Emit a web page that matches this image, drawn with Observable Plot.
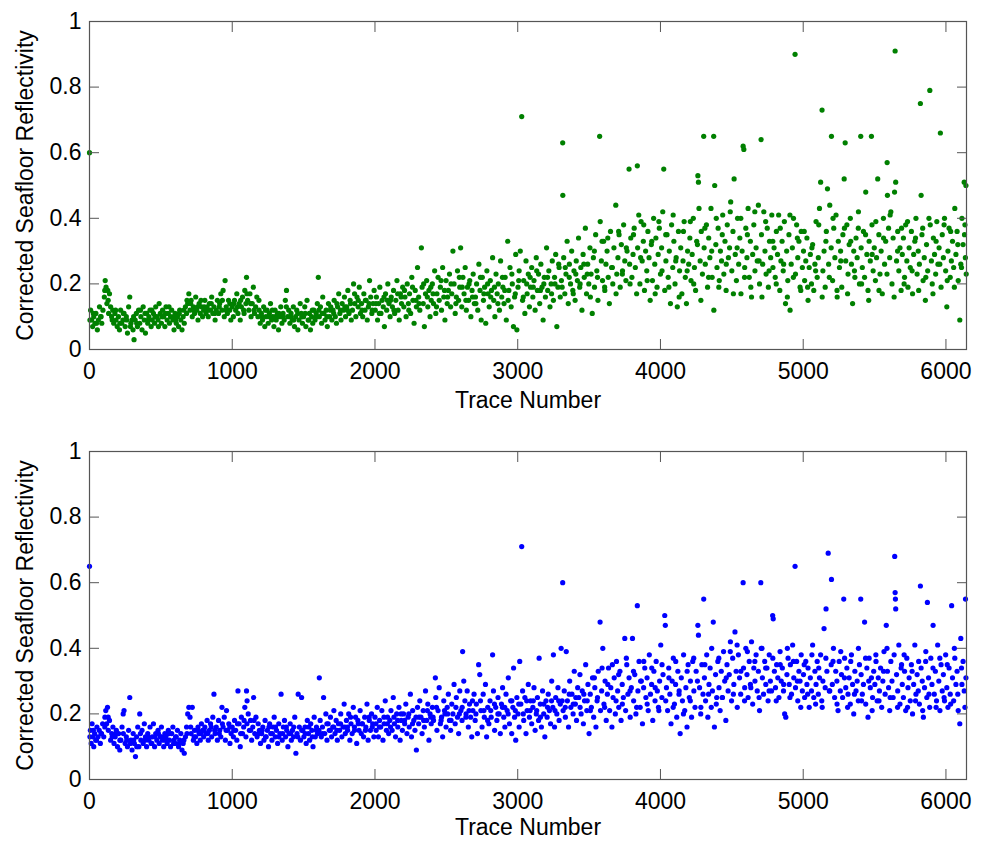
<!DOCTYPE html>
<html><head><meta charset="utf-8">
<script src="https://cdn.jsdelivr.net/npm/d3@7"></script>
<script src="https://cdn.jsdelivr.net/npm/@observablehq/plot@0.6"></script>
<style>
body{margin:0;background:#fff;}
#chart svg{display:block;}
</style></head><body><div id="chart"></div>
<script>
const xTicks = [0,1000,2000,3000,4000,5000,6000];
const yTicks = [0,0.2,0.4,0.6,0.8,1];
const xLabel = "Trace Number";
const yLabel = "Corrected Seafloor Reflectivity";
const traceMax = 6144;

// Top panel (green): [trace, reflectivity]
const green1 = [[0,.60],[8,.12],[15,.09],[22,.07],[30,.10],[38,.08],[45,.11],[55,.06],[62,.09],[70,.13],[78,.10],[86,.08],[94,.12],
[104,.16],[110,.21],[116,.19],[122,.14],[128,.18],[134,.11],[140,.17],[148,.13],[155,.10],[163,.12],[170,.08],[178,.11],[186,.09],[194,.07],
[203,.10],[210,.06],[218,.12],[226,.08],[234,.09],[242,.11],[250,.07],[258,.10],[266,.05],[274,.13],[282,.16],[290,.08],[297,.09],
[305,.06],[312,.03],[320,.09],[328,.11],[336,.07],[344,.12],[352,.08],[360,.10],[368,.06],[376,.13],[384,.09],[392,.05],
[400,.11],[408,.08],[416,.10],[424,.12],[432,.07],[440,.09],[448,.11],[456,.08],[464,.13],[472,.10],[480,.09],[488,.14],[496,.11],
[504,.08],[512,.12],[520,.10],[528,.07],[536,.13],[544,.09],[552,.11],[560,.08],[568,.10],[576,.12],[584,.09],[592,.06],
[600,.11],[608,.08],[616,.10],[624,.07],[632,.12],[640,.09],[648,.06],[656,.10],[664,.08],[672,.13],[680,.11],[688,.14],[696,.17],
[704,.12],[712,.15],[720,.10],[728,.13],[736,.11],[744,.16],[752,.12],[760,.09],[768,.14],[776,.11],[784,.13],[792,.10],
[800,.12],[808,.15],[816,.11],[824,.13],[832,.10],[840,.14],[848,.12],[856,.16],[864,.11],[872,.13],[880,.09],[888,.12],[896,.15],
[904,.11],[912,.14],[920,.17],[928,.12],[936,.18],[944,.10],[950,.21],[958,.13],[966,.11],[974,.15],[982,.12],[990,.09]];
const green2 = [[1000,.13],[1008,.10],[1016,.15],[1024,.12],[1032,.17],[1040,.11],[1048,.14],[1056,.09],[1064,.13],[1072,.16],[1080,.12],[1088,.18],[1096,.14],
[1100,.22],[1108,.15],[1116,.12],[1124,.17],[1132,.10],[1140,.14],[1148,.19],[1156,.11],[1164,.13],[1172,.16],[1180,.10],[1188,.12],[1196,.08],
[1204,.11],[1212,.09],[1220,.13],[1228,.07],[1236,.10],[1244,.12],[1252,.08],[1260,.11],[1268,.14],[1276,.09],[1284,.10],[1292,.07],
[1300,.12],[1308,.09],[1316,.11],[1324,.06],[1332,.10],[1340,.13],[1348,.08],[1356,.11],[1364,.09],[1372,.15],[1380,.18],[1388,.10],[1396,.12],
[1404,.08],[1412,.11],[1420,.09],[1428,.13],[1436,.07],[1444,.10],[1452,.12],[1460,.06],[1468,.09],[1476,.14],[1484,.11],[1492,.08],
[1500,.10],[1508,.13],[1516,.07],[1524,.15],[1532,.09],[1540,.11],[1548,.06],[1556,.10],[1564,.08],[1572,.12],[1580,.09],[1588,.11],[1596,.14],
[1603,.22],[1610,.10],[1618,.13],[1626,.08],[1634,.16],[1642,.11],[1650,.09],[1658,.12],[1666,.07],[1674,.14],[1682,.10],[1690,.13],[1698,.09],
[1706,.12],[1714,.15],[1722,.10],[1730,.08],[1738,.13],[1746,.17],[1754,.11],[1762,.09],[1770,.14],[1778,.12],[1786,.16],[1794,.10],
[1802,.13],[1810,.18],[1818,.11],[1826,.15],[1834,.09],[1842,.12],[1850,.20],[1858,.14],[1866,.10],[1874,.16],[1882,.13],[1890,.19],[1898,.11],
[1906,.14],[1914,.10],[1922,.17],[1930,.12],[1938,.15],[1946,.09],[1954,.13],[1962,.21],[1970,.16],[1978,.11],[1986,.14],[1994,.18]];
const green3 = [[2002,.12],[2010,.16],[2018,.09],[2026,.14],[2034,.19],[2042,.11],[2050,.15],[2058,.13],[2066,.07],[2074,.17],[2082,.12],[2090,.20],[2098,.14],
[2106,.10],[2114,.16],[2122,.13],[2130,.18],[2138,.11],[2146,.15],[2154,.21],[2162,.12],[2170,.09],[2178,.17],[2186,.14],[2194,.19],
[2202,.13],[2210,.16],[2218,.10],[2226,.20],[2234,.14],[2242,.17],[2250,.11],[2258,.22],[2266,.15],[2274,.08],[2282,.18],[2290,.13],[2298,.25],
[2306,.16],[2314,.12],[2325,.31],[2330,.19],[2338,.14],[2346,.07],[2354,.17],[2362,.21],[2370,.13],[2378,.18],[2386,.10],[2394,.15],
[2402,.20],[2410,.14],[2418,.24],[2426,.11],[2434,.17],[2442,.22],[2450,.15],[2458,.19],[2466,.12],[2474,.25],[2482,.16],[2490,.09],[2498,.21],
[2506,.14],[2514,.18],[2522,.23],[2530,.13],[2538,.17],[2546,.30],[2554,.20],[2562,.11],[2570,.16],[2578,.24],[2586,.15],[2594,.19],[2600,.31],
[2608,.13],[2616,.22],[2624,.17],[2632,.25],[2640,.12],[2648,.19],[2656,.15],[2664,.21],[2672,.10],[2680,.18],[2688,.23],[2696,.14],
[2704,.16],[2712,.20],[2720,.12],[2728,.26],[2736,.18],[2744,.09],[2752,.22],[2760,.15],[2768,.19],[2776,.08],[2784,.24],[2792,.17],
[2800,.13],[2808,.21],[2816,.18],[2824,.28],[2832,.15],[2840,.10],[2848,.23],[2856,.17],[2864,.20],[2872,.12],[2880,.27],[2888,.16],[2896,.19],
[2904,.14],[2912,.22],[2920,.09],[2930,.33],[2938,.18],[2946,.25],[2954,.13],[2962,.20],[2970,.07],[2978,.16],[2986,.29],[2994,.06]];
const green4 = [[3002,.19],[3010,.24],[3018,.30],[3028,.71],[3034,.15],[3042,.21],[3050,.11],[3058,.27],[3066,.17],[3074,.23],[3082,.13],[3090,.19],[3098,.25],
[3106,.16],[3114,.21],[3122,.12],[3130,.28],[3138,.18],[3146,.23],[3154,.14],[3162,.26],[3170,.19],[3178,.09],[3186,.22],[3194,.16],
[3202,.31],[3210,.18],[3218,.24],[3226,.13],[3234,.20],[3242,.27],[3250,.15],[3258,.22],[3266,.29],[3274,.07],[3282,.19],[3290,.25],[3298,.16],
[3306,.21],[3315,.63],[3316,.47],[3322,.28],[3330,.17],[3338,.23],[3346,.33],[3354,.14],[3362,.26],[3370,.20],[3378,.30],[3386,.18],[3394,.24],
[3402,.15],[3410,.27],[3418,.21],[3426,.34],[3434,.19],[3442,.25],[3450,.12],[3458,.29],[3466,.22],[3474,.37],[3482,.17],[3490,.26],[3498,.20],
[3506,.31],[3514,.23],[3522,.11],[3530,.28],[3538,.19],[3546,.35],[3554,.24],[3562,.15],[3574,.65],[3578,.39],[3586,.27],[3594,.21],
[3602,.33],[3610,.18],[3618,.26],[3626,.30],[3634,.22],[3642,.14],[3650,.36],[3658,.25],[3666,.20],[3674,.31],[3687,.44],[3694,.23],
[3702,.28],[3710,.35],[3718,.19],[3726,.32],[3734,.24],[3742,.38],[3750,.27],[3758,.21],[3766,.30],[3780,.55],[3784,.26],[3792,.34],
[3800,.22],[3808,.29],[3816,.37],[3824,.25],[3838,.56],[3840,.31],[3848,.41],[3856,.20],[3864,.39],[3872,.27],[3880,.33],[3888,.18],[3896,.30],
[3904,.24],[3912,.36],[3920,.28],[3928,.15],[3936,.32],[3944,.21],[3952,.40],[3960,.26],[3968,.34],[3976,.19],[3984,.29],[3992,.37]];
const green5 = [[4000,.23],[4008,.31],[4016,.42],[4023,.55],[4030,.18],[4038,.27],[4046,.35],[4054,.22],[4062,.30],[4070,.14],[4078,.38],[4086,.25],[4094,.33],
[4102,.20],[4110,.28],[4118,.13],[4126,.36],[4134,.24],[4142,.31],[4150,.17],[4158,.27],[4166,.39],[4174,.22],[4182,.14],[4190,.30],[4198,.26],
[4206,.34],[4214,.21],[4222,.29],[4230,.40],[4238,.25],[4246,.18],[4254,.33],[4262,.53],[4266,.51],[4270,.43],[4278,.27],[4286,.36],[4294,.23],
[4303,.65],[4306,.31],[4314,.26],[4322,.38],[4330,.19],[4338,.34],[4346,.28],[4354,.43],[4362,.22],[4373,.65],[4374,.12],[4380,.50],[4388,.32],[4396,.25],
[4404,.37],[4412,.21],[4420,.30],[4428,.27],[4436,.41],[4444,.23],[4452,.33],[4460,.18],[4468,.38],[4476,.28],[4484,.31],[4492,.45],[4500,.24],
[4508,.36],[4516,.52],[4524,.29],[4532,.21],[4540,.40],[4548,.26],[4556,.34],[4564,.17],[4572,.30],[4579,.62],[4584,.61],[4590,.25],[4598,.37],
[4606,.28],[4614,.43],[4622,.22],[4630,.33],[4638,.16],[4646,.29],[4654,.38],[4662,.24],[4670,.31],[4678,.27],[4686,.44],[4694,.20],
[4705,.64],[4708,.35],[4716,.26],[4724,.42],[4732,.30],[4740,.23],[4748,.37],[4756,.19],[4764,.33],[4772,.28],[4780,.41],[4788,.25],[4796,.31],
[4804,.22],[4812,.36],[4820,.29],[4828,.41],[4836,.18],[4844,.27],[4852,.33],[4860,.24],[4868,.39],[4876,.14],[4884,.30],[4892,.21],
[4900,.35],[4908,.12],[4916,.26],[4924,.31],[4932,.40],[4943,.90],[4946,.23],[4954,.38],[4962,.28],[4970,.33],[4978,.19],[4986,.36],[4994,.25]];
const green6 = [[5002,.30],[5010,.21],[5018,.27],[5026,.34],[5034,.15],[5042,.25],[5050,.29],[5058,.20],[5066,.32],[5074,.18],[5082,.26],[5090,.39],[5098,.22],
[5106,.28],[5114,.43],[5122,.51],[5132,.73],[5138,.24],[5146,.30],[5154,.19],[5162,.36],[5170,.49],[5178,.26],[5186,.44],[5198,.65],[5196,.31],
[5206,.21],[5214,.37],[5222,.28],[5230,.41],[5238,.16],[5246,.33],[5254,.25],[5262,.30],[5270,.19],[5278,.35],[5287,.52],[5294,.63],[5298,.27],
[5306,.38],[5314,.23],[5322,.32],[5330,.40],[5338,.26],[5346,.14],[5354,.30],[5362,.22],[5370,.34],[5378,.28],[5386,.37],[5394,.20],
[5403,.65],[5406,.31],[5414,.25],[5422,.36],[5430,.22],[5438,.48],[5446,.29],[5454,.18],[5462,.33],[5470,.27],[5478,.65],[5482,.38],[5490,.24],[5498,.31],
[5506,.21],[5514,.28],[5522,.52],[5530,.35],[5538,.23],[5546,.30],[5554,.17],[5562,.40],[5570,.26],[5578,.33],[5588,.57],[5590,.47],[5598,.37],
[5606,.28],[5614,.42],[5622,.20],[5630,.34],[5640,.48],[5644,.91],[5648,.51],[5654,.27],[5662,.36],[5670,.24],[5678,.31],[5686,.18],[5694,.29],
[5702,.34],[5710,.22],[5718,.38],[5726,.27],[5734,.19],[5742,.31],[5750,.25],[5758,.36],[5766,.17],[5774,.29],[5782,.33],[5790,.40],[5798,.23],
[5806,.30],[5814,.26],[5821,.75],[5826,.47],[5832,.35],[5840,.21],[5848,.28],[5856,.15],[5864,.32],[5872,.24],[5887,.79],[5890,.38],[5898,.27],
[5904,.20],[5912,.34],[5920,.29],[5928,.23],[5936,.39],[5944,.26],[5952,.31],[5961,.66],[5966,.19],[5974,.35],[5982,.28],[5990,.40],[5998,.24]];
const green7 = [[6006,.13],[6014,.30],[6022,.37],[6030,.22],[6038,.27],[6046,.33],[6054,.25],[6062,.43],[6070,.29],[6078,.36],[6086,.21],[6097,.09],[6104,.26],[6112,.40],[6120,.32],[6128,.51],[6130,.35],[6136,.28],[6140,.50],[6142,.23]];
const greenExtra = [[3,.09],[27,.11],[49,.08],[81,.10],[107,.18],[131,.15],[159,.09],[183,.12],[213,.08],[237,.11],[261,.09],[287,.07],
[309,.10],[331,.08],[357,.12],[389,.11],[411,.09],[437,.12],[459,.10],[483,.07],[507,.10],[533,.11],[557,.13],[589,.10],
[603,.09],[629,.11],[661,.12],[683,.15],[709,.14],[733,.12],[757,.13],[781,.15],[803,.13],[829,.12],[853,.14],[877,.11],
[909,.13],[931,.15],[957,.12],[983,.14],[1011,.14],[1037,.13],[1059,.15],[1083,.11],[1103,.17],[1129,.14],[1153,.12],[1187,.15],
[1209,.10],[1233,.12],[1257,.10],[1281,.12],[1303,.10],[1327,.11],[1353,.10],[1379,.13],[1409,.10],[1431,.09],[1459,.11],[1487,.10],
[1511,.11],[1537,.09],[1561,.12],[1589,.10],[1607,.12],[1631,.11],[1663,.10],[1687,.12],[1711,.11],[1733,.14],[1759,.12],[1789,.13],
[1807,.12],[1829,.14],[1857,.17],[1883,.15],[1909,.12],[1933,.15],[1959,.14],[1981,.12],[2007,.14],[2031,.11],[2063,.16],[2087,.15],
[2109,.15],[2133,.12],[2159,.17],[2183,.16],[2207,.18],[2237,.12],[2263,.19],[2287,.15],[2309,.14],[2341,.20],[2367,.16],[2391,.19],
[2407,.17],[2431,.13],[2463,.21],[2487,.18],[2509,.16],[2533,.20],[2567,.14],[2591,.22],[2611,.19],[2637,.15],[2659,.20],[2683,.16],
[2707,.14],[2739,.22],[2763,.17],[2789,.20],[2811,.16],[2837,.19],[2861,.14],[2893,.22],[2909,.18],[2933,.15],[2959,.23],[2983,.17],
[3007,.21],[3039,.16],[3063,.20],[3087,.22],[3109,.19],[3133,.24],[3159,.18],[3183,.20],[3209,.22],[3237,.17],[3261,.20],[3287,.26],
[3311,.19],[3333,.25],[3361,.22],[3389,.17],[3407,.23],[3437,.20],[3463,.26],[3487,.23],
[3509,.16],[3537,.30],[3559,.22],[3591,.33],[3609,.19],[3631,.34],[3663,.25],[3689,.17],[3707,.36],[3733,.23],[3761,.31],[3787,.20],[3811,.35],[3833,.17],[3861,.28],[3883,.38],
[3907,.21],[3939,.33],[3963,.17],[3989,.39],[4011,.24],[4037,.35],[4059,.19],[4089,.41],[4107,.27],[4131,.16],[4161,.36],[4187,.24],
[4209,.39],[4233,.20],[4259,.32],[4283,.15],[4311,.37],[4337,.22],[4359,.30],[4391,.40],[4409,.19],[4433,.35],[4461,.26],[4489,.42],
[4511,.17],[4537,.31],[4563,.40],[4589,.22],[4609,.35],[4633,.19],[4661,.42],[4691,.27],[4711,.16],[4737,.39],[4761,.24],[4787,.33],
[4811,.20],[4839,.37],[4863,.26],[4889,.16],[4907,.41],[4931,.22],[4959,.34],[4983,.18],[5007,.36],[5031,.19],[5061,.31],[5087,.24],
[5109,.38],[5133,.16],[5159,.33],[5183,.22],[5209,.40],[5237,.18],[5263,.27],[5289,.37],[5311,.17],[5333,.33],[5359,.24],[5387,.42],
[5409,.20],[5437,.35],[5459,.15],[5483,.29],[5509,.39],[5531,.18],[5563,.34],[5587,.23],[5609,.41],[5637,.16],[5661,.30],[5689,.37],
[5707,.20],[5731,.39],[5763,.24],[5787,.34],[5809,.18],[5837,.37],[5859,.22],[5881,.40],[5909,.17],[5931,.33],[5957,.26],[5987,.38],
[6009,.21],[6033,.36],[6059,.19],[6083,.32],[6109,.25],[6133,.38]];

// Bottom panel (blue): [trace, reflectivity]
const blue1 = [[0,.65],[6,.15],[12,.11],[18,.17],[24,.13],[30,.10],[36,.14],[44,.12],[52,.16],[60,.13],[68,.15],[76,.11],[84,.14],[92,.17],
[100,.13],[108,.19],[114,.21],[120,.17],[126,.22],[132,.15],[140,.18],[148,.12],[156,.14],[164,.16],[172,.11],[180,.13],[188,.15],[196,.10],
[204,.14],[212,.09],[220,.12],[228,.16],[236,.20],[242,.21],[250,.11],[258,.13],[266,.10],[274,.15],[282,.25],[290,.12],[298,.09],
[306,.14],[314,.11],[322,.07],[330,.13],[338,.16],[346,.10],[352,.20],[360,.12],[368,.15],[376,.11],[384,.17],[392,.13],
[400,.10],[408,.14],[416,.12],[424,.16],[432,.11],[440,.13],[448,.17],[456,.10],[464,.14],[472,.12],[480,.15],[488,.11],[496,.13],
[504,.16],[512,.12],[520,.10],[528,.14],[536,.13],[544,.11],[552,.15],[560,.12],[568,.10],[576,.14],[584,.16],[592,.12],
[600,.11],[608,.13],[616,.15],[624,.10],[632,.12],[640,.14],[648,.09],[656,.11],[664,.08],[672,.13],[680,.16],[688,.20],[696,.22],
[704,.19],[712,.14],[720,.22],[728,.12],[736,.15],[744,.13],[752,.11],[760,.16],[768,.14],[776,.12],[784,.17],[792,.15],
[800,.13],[808,.16],[816,.14],[824,.18],[832,.12],[840,.15],[848,.17],[856,.13],[864,.19],[872,.26],[880,.14],[888,.16],[896,.12],
[904,.18],[912,.15],[920,.13],[928,.22],[936,.16],[944,.19],[952,.12],[960,.21],[968,.15],[976,.17],[984,.11],[992,.14]];
const blue2 = [[1000,.16],[1008,.13],[1016,.18],[1024,.15],[1032,.12],[1040,.27],[1048,.17],[1056,.10],[1064,.19],[1072,.14],[1080,.16],[1088,.22],[1096,.13],
[1100,.27],[1104,.24],[1112,.20],[1120,.15],[1128,.18],[1136,.12],[1144,.16],[1150,.25],[1158,.14],[1166,.19],[1174,.13],[1182,.17],[1190,.15],[1198,.11],
[1206,.14],[1214,.16],[1222,.12],[1230,.18],[1238,.13],[1246,.15],[1254,.10],[1262,.17],[1270,.14],[1278,.12],[1286,.16],[1294,.19],
[1302,.13],[1310,.15],[1318,.11],[1326,.17],[1334,.14],[1342,.26],[1350,.12],[1358,.16],[1366,.18],[1374,.13],[1382,.15],[1390,.10],[1398,.14],
[1406,.17],[1414,.12],[1422,.15],[1430,.13],[1438,.19],[1446,.08],[1454,.14],[1462,.26],[1470,.16],[1478,.12],[1486,.25],[1494,.15],
[1502,.13],[1510,.16],[1518,.11],[1526,.18],[1534,.14],[1542,.12],[1550,.17],[1558,.15],[1566,.10],[1574,.19],[1582,.13],[1590,.16],[1598,.14],
[1610,.31],[1616,.18],[1624,.13],[1632,.16],[1640,.25],[1648,.14],[1656,.20],[1664,.12],[1672,.17],[1680,.15],[1688,.19],[1696,.13],
[1704,.16],[1712,.21],[1720,.14],[1728,.18],[1736,.12],[1744,.17],[1752,.15],[1760,.20],[1768,.13],[1776,.16],[1784,.23],[1792,.14],
[1800,.18],[1808,.15],[1816,.20],[1824,.12],[1832,.17],[1840,.14],[1848,.22],[1856,.16],[1864,.19],[1872,.11],[1880,.18],[1888,.15],[1896,.21],
[1904,.14],[1912,.17],[1920,.13],[1928,.19],[1936,.16],[1944,.23],[1952,.12],[1960,.18],[1968,.15],[1976,.20],[1984,.17],[1992,.13]];
const blue3 = [[2000,.19],[2008,.15],[2016,.22],[2024,.13],[2032,.18],[2040,.16],[2048,.21],[2056,.12],[2064,.17],[2072,.24],[2080,.15],[2088,.19],[2096,.14],
[2104,.18],[2112,.21],[2120,.15],[2128,.25],[2136,.17],[2144,.13],[2152,.20],[2160,.16],[2168,.22],[2176,.12],[2184,.18],[2192,.15],
[2200,.20],[2208,.17],[2216,.23],[2224,.14],[2232,.19],[2240,.16],[2248,.26],[2256,.13],[2264,.21],[2272,.18],[2280,.15],[2290,.09],[2298,.22],
[2306,.17],[2314,.24],[2322,.19],[2330,.14],[2338,.21],[2346,.16],[2354,.27],[2362,.18],[2370,.23],[2378,.12],[2386,.20],[2394,.17],
[2402,.22],[2410,.18],[2423,.31],[2426,.25],[2434,.15],[2442,.21],[2450,.28],[2458,.17],[2466,.19],[2474,.13],[2482,.24],[2490,.20],[2498,.16],
[2506,.22],[2514,.26],[2522,.18],[2530,.15],[2538,.23],[2546,.20],[2554,.29],[2562,.17],[2570,.25],[2578,.19],[2586,.14],[2594,.27],
[2602,.21],[2610,.18],[2614,.39],[2622,.30],[2630,.24],[2638,.20],[2646,.27],[2654,.16],[2662,.23],[2670,.19],[2678,.13],[2686,.21],[2694,.26],
[2702,.18],[2710,.23],[2718,.14],[2726,.35],[2734,.32],[2742,.21],[2750,.16],[2758,.26],[2766,.19],[2774,.29],[2782,.13],[2790,.22],[2798,.17],
[2806,.24],[2814,.19],[2824,.38],[2830,.27],[2838,.15],[2846,.22],[2854,.18],[2862,.25],[2870,.20],[2878,.14],[2886,.23],[2894,.28],
[2902,.19],[2910,.16],[2918,.26],[2926,.21],[2934,.31],[2942,.17],[2950,.24],[2958,.14],[2966,.22],[2971,.34],[2978,.19],[2986,.12],[2994,.25]];
const blue4 = [[3002,.20],[3010,.16],[3014,.36],[3022,.23],[3028,.71],[3034,.27],[3042,.18],[3050,.25],[3058,.14],[3066,.21],[3074,.29],[3082,.19],[3090,.24],[3098,.17],
[3106,.22],[3114,.28],[3122,.15],[3130,.20],[3138,.25],[3146,.18],[3150,.37],[3158,.23],[3166,.16],[3174,.27],[3182,.20],[3190,.13],[3198,.24],
[3206,.19],[3214,.26],[3222,.21],[3230,.17],[3238,.30],[3246,.22],[3250,.38],[3258,.16],[3266,.25],[3274,.20],[3282,.28],[3290,.18],[3298,.23],
[3304,.40],[3315,.60],[3318,.21],[3326,.27],[3334,.19],[3340,.39],[3348,.24],[3356,.16],[3364,.30],[3372,.22],[3380,.26],[3388,.20],[3396,.33],
[3404,.23],[3412,.18],[3420,.28],[3428,.25],[3436,.32],[3444,.20],[3452,.27],[3460,.17],[3468,.24],[3476,.35],[3484,.21],[3492,.29],[3500,.14],
[3508,.26],[3516,.22],[3524,.31],[3532,.19],[3540,.28],[3548,.16],[3556,.24],[3564,.33],[3577,.48],[3580,.21],[3588,.27],[3596,.40],
[3604,.23],[3612,.30],[3620,.18],[3628,.26],[3636,.34],[3644,.21],[3652,.28],[3660,.16],[3668,.25],[3676,.31],[3684,.20],[3692,.36],
[3700,.27],[3708,.22],[3716,.33],[3724,.18],[3732,.29],[3740,.25],[3750,.43],[3756,.21],[3764,.35],[3772,.26],[3780,.31],[3788,.19],[3796,.28],
[3804,.43],[3812,.24],[3820,.32],[3828,.20],[3838,.53],[3842,.27],[3850,.36],[3858,.22],[3866,.30],[3874,.17],[3882,.28],[3890,.34],[3898,.25],
[3906,.31],[3914,.21],[3922,.38],[3930,.26],[3938,.29],[3946,.18],[3954,.33],[3962,.24],[3970,.36],[3978,.27],[3986,.22],[3994,.30]];
const blue5 = [[4002,.41],[4010,.25],[4018,.32],[4030,.50],[4034,.47],[4042,.28],[4050,.21],[4058,.34],[4066,.26],[4074,.17],[4082,.30],[4090,.37],[4098,.23],
[4106,.29],[4114,.19],[4122,.33],[4130,.26],[4138,.14],[4146,.31],[4154,.24],[4162,.38],[4170,.21],[4178,.28],[4186,.16],[4194,.35],
[4202,.25],[4210,.30],[4218,.19],[4226,.36],[4234,.27],[4242,.22],[4250,.33],[4262,.47],[4266,.44],[4274,.28],[4282,.20],[4290,.35],[4298,.26],
[4303,.55],[4308,.31],[4316,.24],[4324,.38],[4332,.19],[4340,.29],[4348,.34],[4356,.22],[4364,.27],[4370,.48],[4378,.16],[4386,.32],[4394,.25],
[4402,.36],[4410,.28],[4418,.21],[4426,.33],[4434,.25],[4442,.39],[4450,.30],[4458,.18],[4466,.35],[4474,.27],[4482,.32],[4490,.42],[4498,.24],
[4506,.37],[4514,.29],[4522,.45],[4530,.33],[4538,.22],[4546,.38],[4554,.31],[4562,.26],[4579,.60],[4582,.34],[4590,.28],[4598,.40],
[4606,.32],[4614,.25],[4622,.36],[4630,.29],[4638,.42],[4646,.23],[4654,.34],[4662,.30],[4670,.38],[4678,.27],[4686,.33],[4694,.21],
[4703,.60],[4706,.40],[4714,.31],[4722,.26],[4730,.36],[4738,.29],[4746,.34],[4754,.24],[4762,.38],[4770,.30],[4778,.27],[4786,.50],[4790,.49],[4798,.33],
[4806,.28],[4814,.35],[4822,.31],[4830,.25],[4838,.39],[4846,.30],[4854,.34],[4862,.27],[4870,.20],[4878,.19],[4886,.32],[4894,.37],
[4902,.29],[4910,.35],[4918,.26],[4926,.41],[4934,.31],[4943,.65],[4946,.28],[4954,.36],[4962,.24],[4970,.33],[4978,.30],[4986,.38],[4994,.27]];
const blue6 = [[5002,.32],[5010,.25],[5018,.36],[5026,.29],[5034,.34],[5042,.22],[5050,.31],[5058,.27],[5066,.41],[5074,.25],[5082,.33],[5090,.29],[5098,.36],
[5106,.26],[5114,.31],[5122,.38],[5130,.24],[5138,.30],[5146,.46],[5154,.28],[5160,.52],[5166,.33],[5175,.69],[5186,.27],[5198,.61],[5196,.35],
[5204,.29],[5212,.40],[5220,.25],[5228,.33],[5236,.30],[5244,.21],[5252,.36],[5260,.27],[5268,.32],[5276,.25],[5284,.55],[5290,.37],[5298,.28],
[5306,.34],[5314,.26],[5322,.31],[5330,.23],[5338,.38],[5346,.29],[5354,.20],[5362,.33],[5370,.27],[5378,.30],[5386,.24],[5394,.35],
[5403,.55],[5406,.32],[5414,.26],[5422,.29],[5430,.48],[5438,.23],[5446,.34],[5454,.19],[5462,.37],[5470,.28],[5478,.31],[5486,.25],[5494,.33],
[5502,.29],[5510,.36],[5518,.24],[5526,.31],[5534,.27],[5542,.34],[5550,.22],[5558,.30],[5566,.39],[5574,.26],[5582,.47],[5590,.33],[5598,.28],
[5606,.21],[5614,.36],[5622,.30],[5630,.25],[5641,.68],[5644,.57],[5646,.55],[5648,.52],[5654,.32],[5662,.27],[5670,.41],[5678,.23],[5686,.34],[5694,.29],
[5702,.25],[5710,.33],[5718,.21],[5726,.37],[5734,.28],[5742,.31],[5750,.24],[5758,.35],[5766,.20],[5774,.29],[5782,.41],[5790,.26],[5798,.32],
[5806,.27],[5814,.23],[5821,.59],[5826,.34],[5834,.30],[5842,.19],[5850,.28],[5858,.36],[5866,.25],[5870,.54],[5878,.31],[5886,.22],[5894,.37],
[5902,.29],[5910,.47],[5918,.26],[5926,.33],[5934,.24],[5942,.41],[5950,.30],[5958,.21],[5966,.35],[5974,.27],[5982,.32],[5990,.24],[5998,.38]];
const blue7 = [[6006,.28],[6014,.22],[6022,.34],[6030,.26],[6040,.53],[6046,.31],[6054,.24],[6062,.37],[6070,.29],[6078,.33],[6086,.21],[6097,.17],[6104,.43],[6112,.29],[6120,.36],[6128,.27],[6137,.55],[6140,.31]];
const blueExtra = [[3,.13],[27,.15],[49,.12],[81,.14],[107,.16],[131,.19],[159,.13],[183,.14],[213,.12],[237,.14],[261,.12],[287,.11],
[309,.12],[331,.10],[357,.14],[389,.12],[411,.13],[437,.11],[459,.13],[483,.14],[507,.13],[533,.12],[557,.14],[589,.11],
[603,.13],[629,.11],[661,.12],[683,.14],[709,.16],[733,.13],[757,.15],[781,.14],[803,.15],[829,.14],[853,.16],[877,.15],
[909,.14],[931,.17],[957,.15],[983,.16],[1011,.15],[1037,.17],[1059,.14],[1083,.18],[1103,.17],[1129,.15],[1153,.18],[1187,.14],
[1209,.15],[1233,.13],[1257,.16],[1281,.14],[1303,.16],[1327,.13],[1353,.14],[1379,.16],[1409,.14],[1431,.16],[1459,.13],[1487,.15],
[1511,.14],[1537,.16],[1561,.13],[1589,.15],[1607,.15],[1631,.14],[1663,.17],[1687,.15],[1711,.16],[1733,.15],[1759,.17],[1789,.16],
[1807,.16],[1829,.19],[1857,.15],[1883,.17],[1909,.17],[1933,.15],[1959,.19],[1981,.16],[2007,.17],[2031,.16],[2063,.19],[2087,.17],
[2109,.16],[2133,.19],[2159,.18],[2183,.20],[2207,.18],[2237,.20],[2263,.17],[2287,.19],[2309,.19],[2341,.18],[2367,.21],[2391,.19],
[2407,.19],[2431,.22],[2463,.18],[2487,.21],[2509,.20],[2533,.18],[2567,.22],[2591,.20],[2611,.22],[2637,.19],[2659,.21],[2683,.24],
[2707,.20],[2739,.24],[2763,.21],[2789,.18],[2811,.21],[2837,.23],[2861,.20],[2893,.22],[2909,.22],[2933,.20],[2959,.24],[2983,.21],
[3007,.23],[3039,.20],[3063,.24],[3087,.21],[3109,.24],[3133,.21],[3159,.19],[3183,.23],[3209,.22],[3237,.24],[3261,.21],[3287,.24],
[3311,.24],[3333,.22],[3361,.26],[3389,.23],[3407,.25],[3437,.22],[3463,.26],[3487,.24],
[3509,.21],[3537,.31],[3559,.25],[3591,.34],[3609,.22],[3631,.29],[3663,.35],[3689,.24],[3707,.32],[3733,.23],[3761,.37],[3787,.27],[3811,.33],[3833,.22],[3861,.30],[3883,.36],
[3907,.23],[3939,.34],[3963,.28],[3989,.21],[4011,.35],[4037,.24],[4059,.31],[4089,.22],[4107,.36],[4131,.27],[4161,.20],[4187,.33],
[4209,.24],[4233,.37],[4259,.30],[4283,.22],[4311,.35],[4337,.26],[4359,.40],[4391,.23],[4409,.37],[4433,.25],[4461,.31],[4489,.39],
[4511,.26],[4537,.41],[4563,.33],[4589,.24],[4609,.39],[4633,.28],[4661,.36],[4691,.25],[4711,.40],[4737,.34],[4761,.27],[4787,.37],
[4811,.24],[4839,.35],[4863,.29],[4889,.40],[4907,.25],[4931,.36],[4959,.30],[4983,.22],[5007,.35],[5031,.26],[5061,.38],[5087,.23],
[5109,.34],[5133,.22],[5159,.37],[5183,.27],[5209,.36],[5237,.23],[5263,.39],[5289,.31],[5311,.22],[5333,.36],[5359,.26],[5387,.40],
[5409,.24],[5437,.37],[5459,.30],[5483,.21],[5509,.38],[5531,.24],[5563,.33],[5587,.40],[5609,.25],[5637,.38],[5661,.22],[5689,.35],
[5707,.38],[5731,.22],[5763,.33],[5787,.24],[5809,.36],[5837,.21],[5859,.39],[5881,.26],[5909,.34],[5931,.22],[5957,.37],[5987,.25],
[6009,.35],[6033,.23],[6059,.40],[6083,.26],[6109,.34],[6133,.22]];

const greenData = [...green1, ...green2, ...green3, ...green4, ...green5, ...green6, ...green7, ...greenExtra];
const blueData = [...blue1, ...blue2, ...blue3, ...blue4, ...blue5, ...blue6, ...blue7, ...blueExtra];

const FONT = "'Liberation Sans', Arial, Helvetica, sans-serif";
const AX = "#555";

function panel(data, color, height, marginBottom, labelDy) {
  return Plot.plot({
    width: 986, height,
    marginTop: 21, marginLeft: 89, marginRight: 20, marginBottom,
    style: {fontFamily: FONT, fontSize: "23px", background: "#fff", color: "#000"},
    x: {domain: [0, traceMax]},
    y: {domain: [0, 1]},
    marks: [
      Plot.dot(data, {x: d => d[0], y: d => d[1], r: 2.6, fill: color, stroke: "none"}),
      Plot.frame({stroke: AX, strokeWidth: 1.2}),
      Plot.axisX({anchor: "bottom", ticks: xTicks, tickSize: -10, tickPadding: 23, stroke: AX, fill: "#000", fontSize: 23, label: null, tickFormat: d => String(d)}),
      Plot.axisX({anchor: "top", ticks: xTicks, tickSize: -10, stroke: AX, label: null, tickFormat: () => ""}),
      Plot.axisY({anchor: "left", ticks: yTicks, tickSize: -10, tickPadding: 18, stroke: AX, fill: "#000", fontSize: 23, label: null, tickFormat: d => String(d)}),
      Plot.axisY({anchor: "right", ticks: yTicks, tickSize: -10, stroke: AX, label: null, tickFormat: () => ""}),
      Plot.text([xLabel], {text: d => d, frameAnchor: "bottom", dy: labelDy, lineAnchor: "middle", textAnchor: "middle", fontSize: 23, fill: "#000"}),
      Plot.text([yLabel], {text: d => d, frameAnchor: "left", dx: -64, rotate: -90, lineAnchor: "middle", textAnchor: "middle", fontSize: 23, fill: "#000"})
    ]
  });
}

const root = document.getElementById("chart");
root.append(panel(greenData, "#008000", 430, 81, 51));
root.append(panel(blueData, "#0000ff", 411, 62, 48));
</script></body></html>
